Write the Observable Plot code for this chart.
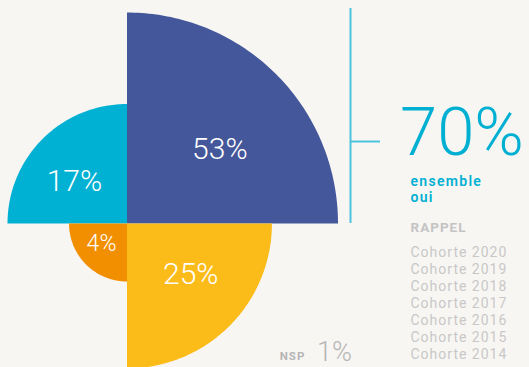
<!DOCTYPE html>
<html><head><meta charset="utf-8">
<script src="https://cdn.jsdelivr.net/npm/d3@7"></script>
<script src="https://cdn.jsdelivr.net/npm/@observablehq/plot@0.6"></script>
<style>
html,body{margin:0;padding:0;background:#f8f6f3;}
#chart{width:529px;height:367px;overflow:hidden;}
g[font-family="Roboto, sans-serif"]{letter-spacing:1px;}
g[font-family="Roboto, Arial"]{letter-spacing:1.3px;}
</style></head>
<body><div id="chart"></div>
<script>
// Data
const quadrants = ["ne", "nw", "sw", "se"];
const values = [53, 17, 4, 25];
const colors = ["#44579a", "#00b1d3", "#f18f00", "#fbbb18"];
const headlineValue = 70;
const headlineLines = ["ensemble", "oui"];
const rappelTitle = "RAPPEL";
const cohorts = ["Cohorte 2020", "Cohorte 2019", "Cohorte 2018", "Cohorte 2017", "Cohorte 2016", "Cohorte 2015", "Cohorte 2014"];
const nspLabel = "NSP";
const nspValue = 1;

// Geometry derived from data
const r = d3.scaleSqrt().domain([0, 53]).range([0, 211]);
const startAngle = {ne: 0, nw: 90, sw: 180, se: 270};
const signs = {ne: [1, 1], nw: [-1, 1], sw: [-1, -1], se: [1, -1]};
const N = 90;
const sectorPts = [];
quadrants.forEach((q, i) => {
  const rad = r(values[i]);
  sectorPts.push({k: q, x: 0, y: 0, c: colors[i]});
  for (let j = 0; j <= N; j++) {
    const a = (startAngle[q] + 90 * j / N) * Math.PI / 180;
    sectorPts.push({k: q, x: rad * Math.cos(a), y: rad * Math.sin(a), c: colors[i]});
  }
  sectorPts.push({k: q, x: 0, y: 0, c: colors[i]});
});
const labels = quadrants.map((q, i) => ({
  q, v: values[i],
  x: signs[q][0] * r(values[i]) * 0.44,
  y: signs[q][1] * r(values[i]) * 0.35
}));

const cyan = "#00b0d2";
const grey = "#c4c4c4";
const bx = 223.5; // bracket x offset
const small = "Roboto, sans-serif";

const plot = Plot.plot({
  width: 529, height: 367, margin: 0,
  x: {domain: [-126.5, 402.5], range: [0, 529], axis: null},
  y: {domain: [-144, 223], range: [367, 0], axis: null},
  color: {type: "identity"},
  style: {background: "#f8f6f3", overflow: "hidden"},
  marks: [
    Plot.line(sectorPts, {x: "x", y: "y", z: "k", fill: "c", stroke: null, curve: "linear"}),
    Plot.text(labels, {x: "x", y: "y", text: d => d.v + "%", fill: "white",
      fontFamily: "Roboto, Lato, sans-serif", fontWeight: 300,
      fontSize: d => d.v < 10 ? 23 : 30}),
    // bracket
    Plot.ruleX([bx], {y1: 0, y2: r(53) + 4, stroke: "#4cc3dc", strokeWidth: 2}),
    Plot.ruleY([82], {x1: bx, x2: bx + 30, stroke: "#4cc3dc", strokeWidth: 2}),
    // headline
    Plot.text([headlineValue + "%"], {x: 273, y: 90, text: d => d, textAnchor: "start",
      fill: cyan, fontFamily: "Roboto, Lato, sans-serif", fontWeight: 300, fontSize: 67}),
    Plot.text(headlineLines, {x: 283.5, y: (d, i) => 42 - i * 16.5, text: d => d, textAnchor: "start",
      fill: cyan, fontFamily: "Roboto, Arial", fontWeight: 600, fontSize: 14}),
    Plot.text([rappelTitle], {x: 283.5, y: -4, text: d => d, textAnchor: "start",
      fill: grey, fontFamily: small, fontWeight: 700, fontSize: 13.5}),
    Plot.text(cohorts, {x: 283.5, y: (d, i) => -29 - i * 17, text: d => d, textAnchor: "start",
      fill: "#c8c8c8", fontFamily: small, fontWeight: 400, fontSize: 14}),
    // NSP
    Plot.text([nspLabel], {x: 165.5, y: -133, text: d => d, textAnchor: "middle",
      fill: "#b5b5b5", fontFamily: small, fontWeight: 700, fontSize: 11.5}),
    Plot.text([nspValue + "%"], {x: 207.5, y: -129, text: d => d, textAnchor: "middle",
      fill: "#b5b5b5", fontFamily: "Roboto, Lato, sans-serif", fontWeight: 300, fontSize: 27})
  ]
});
document.getElementById("chart").append(plot);
</script>
</body></html>
